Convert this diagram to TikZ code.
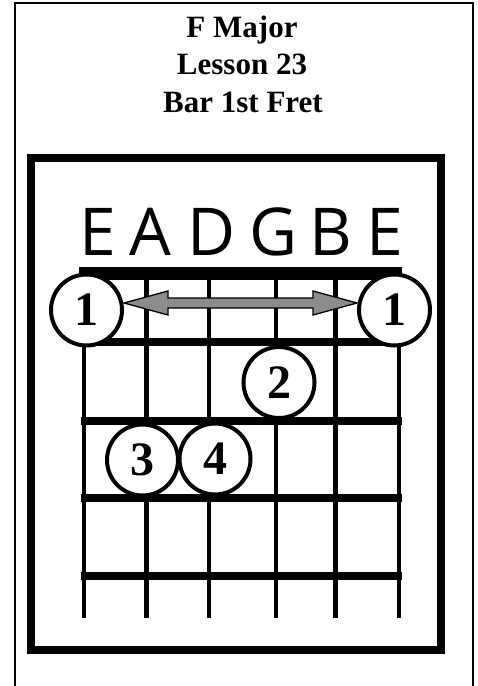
\documentclass[tikz,border=0pt]{standalone}
\usepackage{fontspec}
\setmainfont{Liberation Serif}
\newfontfamily\lettersfont{Open Sans}
\usetikzlibrary{calc}
\tikzset{
  finger/.style={circle,draw=black,line width=4pt,fill=white,minimum size=71pt,inner sep=0pt,
    font=\fontsize{48}{48}\selectfont\bfseries},
  stringline/.style={line width=4.8pt},
  fretline/.style={line width=8pt},
  strname/.style={font=\fontsize{66}{66}\selectfont\lettersfont,inner sep=0pt,anchor=base},
  titletext/.style={font=\fontsize{31}{37}\selectfont\bfseries,align=center,inner sep=0pt,anchor=base}
}
\begin{document}
\begin{tikzpicture}[x=1pt,y=-1pt]
\useasboundingbox (0,0) rectangle (478,686);
% outer frame (open at bottom edge of picture)
\draw[line width=1.5pt] (15,700) -- (15,3) -- (473,3) -- (473,700);
% title
\node[titletext] (t1) at (242,37.5) {F Major};
\node[titletext] (t2) at (242,74.5) {Lesson 23};
\node[titletext] (t3) at (243,112) {Bar 1st Fret};
% inner frame
\draw[line width=8pt] (31,158) rectangle (441,650);
% string names
\foreach \x/\l [count=\i] in {97.5/E,150/A,212/D,274/G,331/B,385/E}
  \node[strname] (n\i) at (\x,255) {\l};
% strings
\foreach \x in {84,146.5,209,276,335.5,399}
  \draw[stringline] (\x,273) -- (\x,618);
% nut
\draw[line width=13pt] (79,273.5) -- (402,273.5);
% frets
\foreach \y in {342,421,498,576}
  \draw[fretline] (81,\y) -- (401.5,\y);
% fingers
\node[finger] (f1l) at (86.5,310) {1};
\node[finger] (f1r) at (394.5,310) {1};
\node[finger] (f2) at (279,382.5) {2};
\node[finger] (f3) at (142.5,460) {3};
\node[finger] (f4) at (215,459) {4};
% barre arrow
\coordinate (tl) at ($(f1l.east)+(0,-7)$);
\coordinate (tr) at ($(f1r.west)+(0,-7)$);
\draw[line width=1.3pt,fill=black!45,line join=miter]
  (tl) -- ($(tl)+(44,-12)$) -- ($(tl)+(44,-5)$) -- ($(tr)+(-44,-5)$) -- ($(tr)+(-44,-12)$)
  -- (tr) -- ($(tr)+(-44,12)$) -- ($(tr)+(-44,5)$) -- ($(tl)+(44,5)$) -- ($(tl)+(44,12)$) -- cycle;
\end{tikzpicture}
\end{document}
